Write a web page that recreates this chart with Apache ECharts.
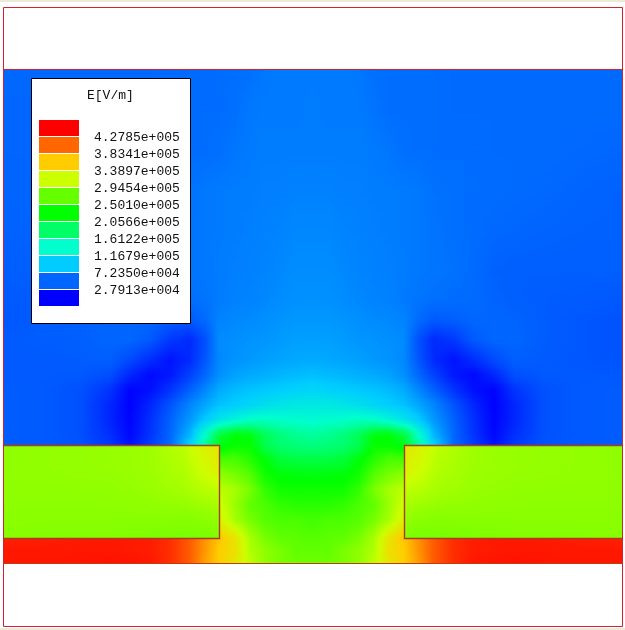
<!DOCTYPE html>
<html><head><meta charset="utf-8">
<style>html,body{margin:0;padding:0;background:#fff}#c{width:625px;height:630px}</style>
<script src="https://cdn.jsdelivr.net/npm/echarts@6/dist/echarts.min.js"></script>
</head><body><div id="c"></div>
<script>
// Field magnitude, in units of 1e4 V/m.
const airXs=[3,40,80,110,130,150,170,190,205,219,235,250,265,280,296,312,328,344,359,374,389,404,419,434,454,474,494,514,544,584,622];
const airYs=[69,110,150,190,230,270,300,320,340,360,375,390,405,420,435,445];
const airValues=[
[5.1,5.1,5.1,5.1,5.1,5.1,5.2,5.2,5.2,5.3,5.3,5.4,5.8,5.9,5.9,5.9,5.9,5.9,5.8,5.4,5.3,5.3,5.3,5.3,5.2,5.2,5.2,5.2,5.2,5.2,5.2],
[5.0,5.0,5.0,5.1,5.1,5.1,5.2,5.2,5.3,5.3,5.4,5.8,5.9,5.9,5.9,6.0,5.9,5.9,5.9,5.6,5.3,5.3,5.3,5.3,5.2,5.2,5.2,5.2,5.2,5.2,5.2],
[5.0,5.0,5.0,5.1,5.1,5.2,5.2,5.3,5.3,5.4,5.7,5.9,6.0,6.0,6.0,6.0,6.0,6.0,6.0,5.9,5.7,5.4,5.3,5.3,5.3,5.3,5.2,5.2,5.2,5.1,5.0],
[4.9,5.0,5.0,5.1,5.2,5.3,5.3,5.5,5.8,5.9,6.0,6.0,6.1,6.1,6.2,6.2,6.2,6.1,6.1,6.0,6.0,5.9,5.8,5.5,5.4,5.3,5.3,5.2,5.1,4.9,4.8],
[4.8,4.9,5.0,5.2,5.3,5.4,5.5,5.6,5.8,5.9,6.0,6.1,6.2,6.3,6.5,6.5,6.5,6.3,6.2,6.1,6.0,5.9,5.8,5.6,5.4,5.3,5.1,5.0,4.9,4.8,4.8],
[4.6,4.8,5.0,5.2,5.3,5.5,5.6,5.7,5.8,6.0,6.1,6.2,6.3,6.5,6.7,6.7,6.7,6.5,6.3,6.2,6.1,6.0,5.8,5.7,5.5,5.2,4.8,4.7,4.7,4.7,4.7],
[4.4,4.6,4.9,5.0,5.2,5.3,5.3,5.4,5.6,5.9,6.2,6.3,6.5,6.7,6.9,6.9,6.9,6.7,6.5,6.3,6.2,5.9,5.6,5.4,5.3,5.2,4.9,4.7,4.6,4.5,4.4],
[4.3,4.6,4.8,4.9,5.0,5.0,4.7,4.5,5.2,6.3,6.5,6.6,6.8,7.0,7.2,7.2,7.2,7.0,6.8,6.6,6.5,6.3,5.2,4.5,4.7,5.0,5.0,4.9,4.6,4.3,4.2],
[4.5,4.6,4.7,5.0,5.0,4.5,3.0,2.4,4.0,6.6,6.8,7.0,7.1,7.3,7.5,7.5,7.5,7.3,7.1,7.0,6.8,6.6,4.0,2.4,3.0,4.5,5.0,5.0,4.6,4.3,4.2],
[4.5,4.5,4.6,4.7,3.8,2.5,1.4,2.4,4.3,6.5,7.0,7.2,7.5,7.7,7.9,8.0,7.9,7.7,7.5,7.2,7.0,6.5,4.3,2.4,1.4,2.5,3.8,4.7,4.5,4.3,4.2],
[4.5,4.5,4.4,4.0,2.2,1.0,1.6,3.4,5.0,6.8,7.6,8.0,8.2,8.5,8.7,8.9,8.7,8.5,8.2,8.0,7.6,6.8,5.0,3.4,1.6,1.0,2.2,4.0,4.4,4.4,4.4],
[4.6,4.5,4.1,2.8,0.7,1.2,2.8,4.8,6.4,8.0,8.7,9.1,9.3,9.6,9.9,10.2,9.9,9.6,9.3,9.1,8.7,8.0,6.4,4.8,2.8,1.2,0.7,2.8,4.1,4.5,4.6],
[4.6,4.5,4.1,2.2,0.6,2.2,4.2,6.4,7.8,9.0,9.6,10.2,11.0,11.6,11.9,12.0,11.9,11.6,11.0,10.2,9.6,9.0,7.8,6.4,4.2,2.2,0.6,2.2,4.1,4.5,4.6],
[4.6,4.5,4.1,2.2,0.7,2.6,4.8,7.2,9.5,11.5,13.0,14.2,14.5,14.0,13.8,13.5,13.8,14.0,14.5,14.2,13.0,11.5,9.5,7.2,4.8,2.6,0.7,2.2,4.1,4.5,4.6],
[4.6,4.5,4.1,2.6,0.9,2.8,5.0,8.5,14.0,20.0,22.5,22.0,19.0,17.5,16.5,16.0,16.5,17.5,19.0,22.0,22.5,20.0,14.0,8.5,5.0,2.8,0.9,2.6,4.1,4.5,4.6],
[4.6,4.5,4.2,3.0,1.3,3.2,5.2,10.0,15.5,22.0,23.0,23.0,19.5,18.0,17.5,17.3,17.5,18.0,19.5,23.0,23.0,22.0,15.5,10.0,5.2,3.2,1.3,3.0,4.2,4.5,4.6]
];
const gapXs=[219,235,250,265,280,296,312,328,344,359,374,389,404];
const gapYs=[445,460,475,490,505,520,538,550,563];
const gapValues=[
[22.0,23.0,23.0,19.5,18.0,17.5,17.3,17.5,18.0,19.5,23.0,23.0,22.0],
[26.0,26.0,24.5,22.5,20.5,20.0,20.0,20.0,20.5,22.5,24.5,26.0,26.0],
[29.0,28.0,26.5,23.5,22.5,22.3,22.2,22.3,22.5,23.5,26.5,28.0,29.0],
[31.0,30.0,28.0,25.0,23.5,23.4,23.5,23.4,23.5,25.0,28.0,30.0,31.0],
[32.0,29.5,27.0,26.0,25.0,24.5,24.5,24.5,25.0,26.0,27.0,29.5,32.0],
[33.0,30.0,28.0,26.5,26.0,26.0,25.6,26.0,26.0,26.5,28.0,30.0,33.0],
[36.5,34.0,30.0,28.0,27.0,26.8,26.5,26.8,27.0,28.0,30.0,34.0,36.5],
[36.0,34.5,30.5,29.0,28.0,27.0,27.0,27.0,28.0,29.0,30.5,34.5,36.0],
[36.0,33.8,31.0,29.0,28.0,27.5,27.5,27.5,28.0,29.0,31.0,33.8,36.0]
];
const leftBlockXs=[3,60,110,150,185,205,219];
const rightBlockXs=[404,418,438,473,513,563,622];
const blockYs=[445,470,490,515,538];
const leftBlockValues=[
[29.0,29.2,29.3,29.7,31.0,33.0,33.8],
[29.0,29.2,29.3,29.6,30.5,32.0,33.0],
[29.0,29.0,29.1,29.4,30.0,30.7,31.0],
[28.8,28.8,28.8,28.8,28.8,29.0,29.5],
[28.7,28.5,28.5,28.2,28.0,28.0,28.3]
];
const rightBlockValues=[
[33.8,33.0,31.0,29.7,29.3,29.2,29.0],
[33.0,32.0,30.5,29.6,29.3,29.2,29.0],
[31.0,30.7,30.0,29.4,29.1,29.0,29.0],
[29.5,29.0,28.8,28.8,28.8,28.8,28.8],
[28.3,28.0,28.0,28.2,28.5,28.5,28.7]
];
const leftStripXs=[3,60,110,150,170,190,205,219];
const rightStripXs=[404,418,433,453,473,513,563,622];
const stripYs=[538,550,563];
const leftStripValues=[
[43.5,43.8,44.0,43.8,43.0,41.0,38.5,36.5],
[44.0,44.0,44.0,43.8,43.0,41.0,38.5,36.0],
[44.0,44.0,44.3,44.0,43.0,41.0,38.0,36.0]
];
const rightStripValues=[
[36.5,38.5,41.0,43.0,43.8,44.0,43.8,43.5],
[36.0,38.5,41.0,43.0,43.8,44.0,44.0,44.0],
[36.0,38.0,41.0,43.0,44.0,44.3,44.0,44.0]
];
const legendTitle='E[V/m]';
const legendLabels=['4.2785e+005','3.8341e+005','3.3897e+005','2.9454e+005','2.5010e+005','2.0566e+005','1.6122e+005','1.1679e+005','7.2350e+004','2.7913e+004'];
const bandColors=['#ff0000','#ff6600','#ffcc00','#ccff00','#66ff00','#00ff00','#00ff66','#00ffcc','#00ccff','#0066ff','#0000ff'];
const rampColors=bandColors.slice().reverse();
const rampMin=0.57, rampMax=45.0;

// Outlines of the model, in picture units.
const frameBox=[[3,7],[622,7],[622,626],[3,626],[3,7]];
const airTop=[[3,69],[622,69]];
const leftBlockLine=[[3,445],[219,445],[219,538],[3,538]];
const rightBlockLine=[[622,445],[404,445],[404,538],[622,538]];
const floorLine=[[3,563],[622,563]];

const zones=[
 [airXs,airYs,airValues],[gapXs,gapYs,gapValues],
 [leftBlockXs,blockYs,leftBlockValues],[rightBlockXs,blockYs,rightBlockValues],
 [leftStripXs,stripYs,leftStripValues],[rightStripXs,stripYs,rightStripValues]
];
const cells=[];
zones.forEach(([xs,ys,vals])=>{
 for(let r=0;r<ys.length-1;r++)for(let c=0;c<xs.length-1;c++)
  cells.push([xs[c],xs[c+1],ys[r],ys[r+1],vals[r][c],vals[r][c+1],vals[r+1][c],vals[r+1][c+1]]);
});
function colorOf(v){
 const t=Math.min(1,Math.max(0,(v-rampMin)/(rampMax-rampMin)));
 return echarts.color.lerp(t,rampColors);
}
function renderCell(params,api){
 const d=cells[params.dataIndex];
 const p0=api.coord([d[0],d[2]]),p1=api.coord([d[1],d[3]]);
 const x0=Math.round(p0[0]),x1=Math.round(p1[0]),y0=Math.round(p0[1]),y1=Math.round(p1[1]);
 const w=x1-x0,h=y1-y0;
 const n=Math.max(1,Math.round(h/2)),k=Math.max(2,Math.ceil(w/7));
 const children=[];
 for(let s=0;s<n;s++){
  const f=(s+0.5)/n;
  const a=d[4]+(d[6]-d[4])*f,b=d[5]+(d[7]-d[5])*f;
  const stops=[];
  for(let i=0;i<=k;i++){const g=i/k;stops.push({offset:g,color:colorOf(a+(b-a)*g)});}
  const ya=y0+Math.round(h*s/n),yb=y0+Math.round(h*(s+1)/n);
  children.push({type:'rect',
   shape:{x:x0,y:ya,width:w,height:yb-ya},
   style:{fill:{type:'linear',x:0,y:0,x2:1,y2:0,colorStops:stops}},silent:true});
 }
 return {type:'group',children};
}
const lineData=[
 {pts:airTop,color:'#d8202c',w:1},{pts:frameBox,color:'#d8202c',w:1},
 {pts:floorLine,color:'#c03a1c',w:1.2},{pts:leftBlockLine,color:'#a63c24',w:1.4},{pts:rightBlockLine,color:'#a63c24',w:1.4}
];
function renderLine(params,api){
 const l=lineData[params.dataIndex];
 return {type:'polyline',shape:{points:l.pts.map(p=>{const q=api.coord(p);return [Math.round(q[0])+0.5,Math.round(q[1])+0.5];})},
  style:{fill:null,stroke:l.color,lineWidth:l.w},silent:true};
}
const mono='"Liberation Mono",monospace';
const legendItems=[
 {type:'rect',z:10,shape:{x:31.5,y:78.5,width:159,height:245},style:{fill:'#fff',stroke:'#000',lineWidth:1}},
 {type:'text',z:11,x:87,y:95.5,style:{text:legendTitle,font:'13px '+mono,fill:'#111',textVerticalAlign:'middle'}}
];
bandColors.forEach((c,i)=>legendItems.push({type:'rect',z:11,shape:{x:39,y:120+17*i,width:40,height:16},style:{fill:c}}));
legendLabels.forEach((t,i)=>legendItems.push({type:'text',z:11,x:94,y:137.5+17*i,style:{text:t,font:'13px '+mono,fill:'#111',textVerticalAlign:'middle'}}));

const chart=echarts.init(document.getElementById('c'),null,{renderer:'canvas'});
chart.setOption({
 animation:false,backgroundColor:'#fff',
 grid:{left:0,top:0,width:625,height:630},
 xAxis:{type:'value',min:0,max:625,show:false},
 yAxis:{type:'value',min:0,max:630,inverse:true,show:false},
 series:[
  {type:'custom',data:cells,renderItem:renderCell,clip:false,silent:true,progressive:0,z:1,encode:{x:0,y:2}},
  {type:'custom',data:lineData.map((l,i)=>[i]),renderItem:renderLine,clip:false,silent:true,z:2,encode:{x:0}}
 ],
 graphic:{elements:[
  {type:'rect',shape:{x:0,y:0,width:625,height:2},style:{fill:'#ece9d8'},z:5},
  {type:'rect',shape:{x:0,y:628,width:625,height:2},style:{fill:'#ece9d8'},z:5}
 ].concat(legendItems)}
});
</script></body></html>
